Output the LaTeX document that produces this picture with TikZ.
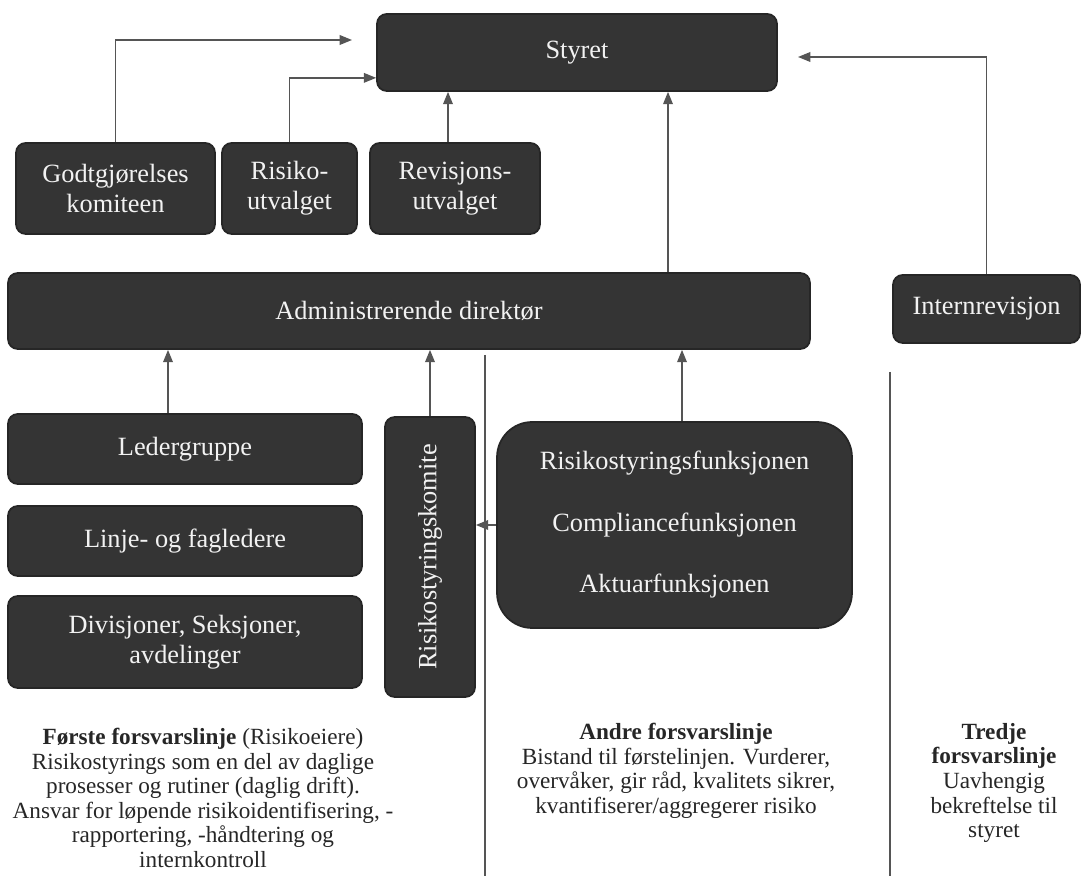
\documentclass[tikz,border=0pt]{standalone}
\usepackage{fontspec}
\setmainfont{Liberation Serif}
\usetikzlibrary{arrows.meta,calc}
\definecolor{boxgray}{RGB}{52,52,52}
\definecolor{linegray}{RGB}{85,85,85}
\tikzset{box/.style={draw=black!85, line width=1pt, fill=boxgray, rounded corners=5.5pt, text=white!95!black, align=center, font=\fontsize{15}{17}\selectfont, inner sep=2pt}}
\tikzset{arr/.style={draw=linegray, line width=0.8pt, -{Triangle[length=7pt,width=5.5pt]}}}
\tikzset{sep/.style={draw=linegray, line width=0.8pt}}
\tikzset{note/.style={align=center, text=black!85, font=\fontsize{13.2}{14}\selectfont, anchor=north}}

\begin{document}
\begin{tikzpicture}[x=0.02cm,y=-0.02cm]
\useasboundingbox (0,0) rectangle (1082,884);

%the board and its committees
\node (styret) at (577,52.5)[box, minimum width=8cm, minimum height=1.54cm]{Styret};
\node (godtgj) at (115.5,188.5)[box, minimum width=3.98cm, minimum height=1.82cm]{Godtgjørelses\\komiteen};
\node (risiko) at (289.5,188.5)[box, minimum width=2.7cm, minimum height=1.82cm]{Risiko-\\utvalget};
\node (revisjon) at (455,188.5)[box, minimum width=3.4cm, minimum height=1.82cm]{Revisjons-\\utvalget};

\node (admin) at (409,311)[box, minimum width=16.04cm, minimum height=1.52cm]{Administrerende direktør};
\node (intern) at (986.5,309)[box, minimum width=3.74cm, minimum height=1.36cm]{Internrevisjon};

%first and second line
\node (leder) at (185,449)[box, minimum width=7.08cm, minimum height=1.4cm]{Ledergruppe};
\node (linje) at (185,541)[box, minimum width=7.08cm, minimum height=1.4cm]{Linje- og fagledere};
\node (divisjon) at (185,642)[box, minimum width=7.08cm, minimum height=1.84cm]{Divisjoner, Seksjoner,\\avdelinger};
\node (komite) at (430,557)[box, minimum width=1.8cm, minimum height=5.6cm]{\rotatebox{90}{Risikostyringskomite}};
\node (funk) at (674.5,525)[box, rounded corners=20pt, minimum width=7.1cm, minimum height=4.12cm, font=\fontsize{15}{35}\selectfont]{Risikostyringsfunksjonen\\Compliancefunksjonen\\Aktuarfunksjonen};

\coordinate (godtgjin) at (352,40);
\coordinate (internin) at (798,57);

\draw[arr] (godtgj.north) |- (godtgjin);
\draw[arr] (risiko.north) |- ($(styret.south west)+(0,-14)$);
\draw[arr] (revisjon.north -| 448,0) -- (styret.south -| 448,0);
\draw[arr] (admin.north -| 668,0) -- (styret.south -| 668,0);
\draw[arr] (intern.north) |- (internin);

\draw[arr] (leder.north -| 168,0) -- (admin.south -| 168,0);
\draw[arr] (komite.north) -- (komite.north |- admin.south);
\draw[arr] (funk.north -| 682,0) -- (admin.south -| 682,0);
\draw[arr] (funk.west) -- (komite.east |- funk.west);

%lines between the three lines of defence
\draw[sep] (485,355) -- (485,876);
\draw[sep] (890,372) -- (890,876);

\node (forste) at (203,722)[note]{\textbf{Første forsvarslinje} (Risikoeiere)\\Risikostyrings som en del av daglige\\prosesser og rutiner (daglig drift).\\Ansvar for løpende risikoidentifisering, -\\rapportering, -håndtering og\\internkontroll};
\node (andre) at (676,717)[note]{\textbf{Andre forsvarslinje}\\Bistand til førstelinjen. Vurderer,\\overvåker, gir råd, kvalitets sikrer,\\kvantifiserer/aggregerer risiko};
\node (tredje) at (994,717)[note]{\textbf{Tredje}\\\textbf{forsvarslinje}\\Uavhengig\\bekreftelse til\\styret};
\end{tikzpicture}
\end{document}
